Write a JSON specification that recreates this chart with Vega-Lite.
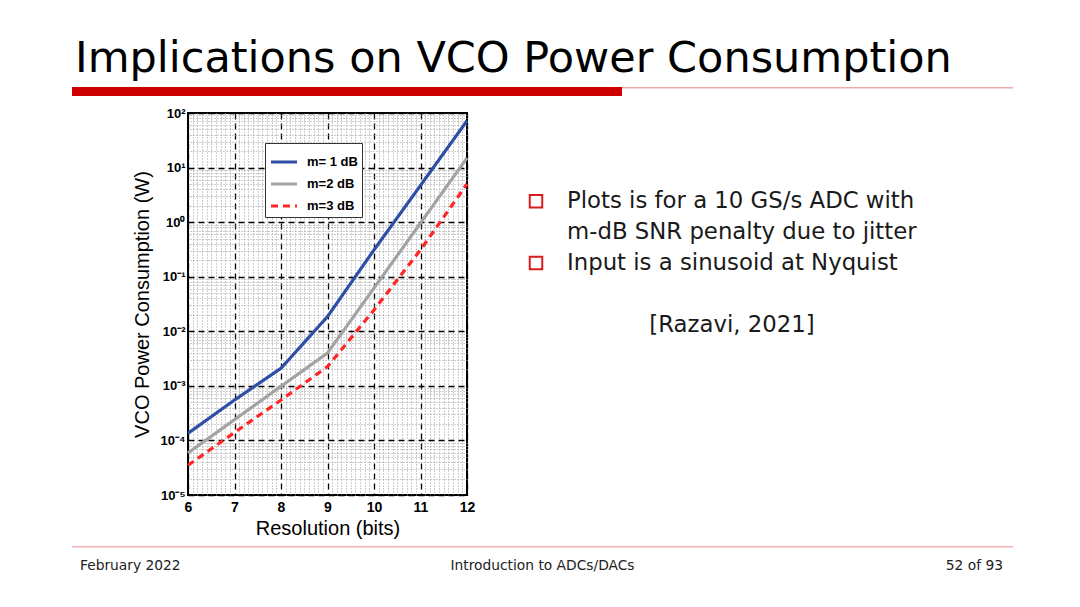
{
  "$schema": "https://vega.github.io/schema/vega-lite/v6.json",
  "background": "white",
  "padding": {"left": 72, "top": 38, "right": 67, "bottom": 30},
  "title": {"text": "Implications on VCO Power Consumption", "anchor": "start", "frame": "group", "font": "DejaVu Sans", "fontSize": 43, "fontWeight": "normal", "color": "#000000", "offset": 6, "dx": 3},
  "config": {"view": {"stroke": null}, "font": "Liberation Sans"},
  "spacing": 7,
  "vconcat": [
    {
      "spacing": 10,
      "vconcat": [
        {
          "spacing": 0,
          "hconcat": [
            {"width": 550, "height": 9, "view": {"fill": "#cc0000", "stroke": null}, "data": {"values": []}, "mark": {"type": "point", "opacity": 0}, "encoding": {}},
            {"width": 391, "height": 1.5, "view": {"fill": "#f0a8a8", "stroke": null}, "data": {"values": []}, "mark": {"type": "point", "opacity": 0}, "encoding": {}}
          ]
        },
        {
          "spacing": 0,
          "hconcat": [
            {"width": 59, "height": 10, "data": {"values": []}, "mark": {"type": "point", "opacity": 0}, "encoding": {}},
            {
              "width": 279,
              "height": 382,
              "view": {"stroke": "#000000", "strokeWidth": 2},
              "data": {"values": [
                {"res": 6, "P": 0.000135, "series": "m= 1 dB"},
                {"res": 7, "P": 0.00055, "series": "m= 1 dB"},
                {"res": 8, "P": 0.0021, "series": "m= 1 dB"},
                {"res": 9, "P": 0.0186, "series": "m= 1 dB"},
                {"res": 10, "P": 0.31, "series": "m= 1 dB"},
                {"res": 11, "P": 4.7, "series": "m= 1 dB"},
                {"res": 12, "P": 72, "series": "m= 1 dB"},
                {"res": 6, "P": 0.000059, "series": "m=2 dB"},
                {"res": 7, "P": 0.00024, "series": "m=2 dB"},
                {"res": 8, "P": 0.00098, "series": "m=2 dB"},
                {"res": 9, "P": 0.004, "series": "m=2 dB"},
                {"res": 10, "P": 0.062, "series": "m=2 dB"},
                {"res": 11, "P": 0.96, "series": "m=2 dB"},
                {"res": 12, "P": 15, "series": "m=2 dB"},
                {"res": 6, "P": 0.000035, "series": "m=3 dB"},
                {"res": 7, "P": 0.00014, "series": "m=3 dB"},
                {"res": 8, "P": 0.00055, "series": "m=3 dB"},
                {"res": 9, "P": 0.00225, "series": "m=3 dB"},
                {"res": 10, "P": 0.0246, "series": "m=3 dB"},
                {"res": 11, "P": 0.31, "series": "m=3 dB"},
                {"res": 12, "P": 5.0, "series": "m=3 dB"}
              ]},
              "layer": [
                {
                  "mark": {"type": "line", "opacity": 0},
                  "encoding": {
                    "x": {"field": "res", "type": "quantitative", "scale": {"domain": [6, 12], "nice": false, "zero": false},
                      "axis": {"orient": "top", "values": [6.1,6.2,6.3,6.4,6.5,6.6,6.7,6.8,6.9,7.1,7.2,7.3,7.4,7.5,7.6,7.7,7.8,7.9,8.1,8.2,8.3,8.4,8.5,8.6,8.7,8.8,8.9,9.1,9.2,9.3,9.4,9.5,9.6,9.7,9.8,9.9,10.1,10.2,10.3,10.4,10.5,10.6,10.7,10.8,10.9,11.1,11.2,11.3,11.4,11.5,11.6,11.7,11.8,11.9],
                        "grid": true, "gridColor": "#9a9a9a", "gridDash": [1, 2], "gridWidth": 1, "labels": false, "ticks": false, "domain": false, "title": null, "minExtent": 0, "maxExtent": 0}},
                    "y": {"field": "P", "type": "quantitative", "scale": {"type": "log", "domain": [0.00001, 100], "nice": false},
                      "axis": {"orient": "right", "values": [0.00002,0.00003,0.00004,0.00005,0.00006,0.00007,0.00008,0.00009,0.0002,0.0003,0.0004,0.0005,0.0006,0.0007,0.0008,0.0009,0.002,0.003,0.004,0.005,0.006,0.007,0.008,0.009,0.02,0.03,0.04,0.05,0.06,0.07,0.08,0.09,0.2,0.3,0.4,0.5,0.6,0.7,0.8,0.9,2,3,4,5,6,7,8,9,20,30,40,50,60,70,80,90],
                        "grid": true, "gridColor": "#9a9a9a", "gridDash": [1, 2], "gridWidth": 1, "labels": false, "ticks": false, "domain": false, "title": null, "minExtent": 0, "maxExtent": 0}}
                  }
                },
                {
                  "mark": {"type": "line", "strokeWidth": 3.2},
                  "encoding": {
                    "x": {"field": "res", "type": "quantitative",
                      "axis": {"orient": "bottom", "values": [6, 7, 8, 9, 10, 11, 12], "format": "d", "grid": true, "gridColor": "#000000", "gridDash": [6, 4], "gridWidth": 1.3, "ticks": false, "domain": false,
                        "labelFont": "Liberation Sans", "labelFontWeight": "bold", "labelFontSize": 14, "labelColor": "#000000", "labelPadding": 5, "labelFlush": false, "labelOverlap": false,
                        "title": "Resolution (bits)", "titleFont": "Liberation Sans", "titleFontSize": 20, "titleFontWeight": "normal", "titleColor": "#000000", "titlePadding": 4}},
                    "y": {"field": "P", "type": "quantitative",
                      "axis": {"orient": "left", "values": [0.00001, 0.0001, 0.001, 0.01, 0.1, 1, 10, 100], "grid": true, "gridColor": "#000000", "gridDash": [6, 4], "gridWidth": 1.3, "ticks": false, "domain": false,
                        "labelExpr": "datum.value > 50 ? '10²' : datum.value > 5 ? '10¹' : datum.value > 0.5 ? '10⁰' : datum.value > 0.05 ? '10⁻¹' : datum.value > 0.005 ? '10⁻²' : datum.value > 0.0005 ? '10⁻³' : datum.value > 0.00005 ? '10⁻⁴' : '10⁻⁵'",
                        "labelFont": "Liberation Sans", "labelFontWeight": "bold", "labelFontSize": 13, "labelColor": "#000000", "labelPadding": 3, "labelFlush": false, "labelOverlap": false,
                        "title": "VCO Power Consumption (W)", "titleFont": "Liberation Sans", "titleFontSize": 20, "titleFontWeight": "normal", "titleColor": "#000000", "titlePadding": 8}},
                    "color": {"field": "series", "type": "nominal",
                      "scale": {"domain": ["m= 1 dB", "m=2 dB", "m=3 dB"], "range": ["#2f4fa6", "#a3a3a3", "#ff2626"]},
                      "legend": {"title": null, "orient": "none", "legendX": 193, "legendY": 56, "fillColor": "#ffffff", "strokeColor": "#333333", "padding": 4, "symbolType": "stroke", "symbolSize": 676, "symbolStrokeWidth": 3.2, "labelFont": "Liberation Sans", "labelFontWeight": "bold", "labelFontSize": 13, "labelColor": "#000000", "rowPadding": -3.5, "labelOffset": 8,
                        "encode": {"symbols": {"update": {"strokeDash": {"signal": "datum.value === 'm=3 dB' ? [7, 5] : [1, 0]"}}}}}},
                    "strokeDash": {"field": "series", "type": "nominal",
                      "scale": {"domain": ["m= 1 dB", "m=2 dB", "m=3 dB"], "range": [[1, 0], [1, 0], [7, 5]]},
                      "legend": null}
                  }
                }
              ],
              "resolve": {"axis": {"x": "independent", "y": "independent"}}
            },
            {"width": 49, "height": 10, "data": {"values": []}, "mark": {"type": "point", "opacity": 0}, "encoding": {}},
            {
              "width": 412,
              "height": 212,
              "data": {"values": [
                {"line": 1, "bullet": true, "text": "Plots is for a 10 GS/s ADC with"},
                {"line": 2, "bullet": false, "text": "m-dB SNR penalty due to jitter"},
                {"line": 3, "bullet": true, "text": "Input is a sinusoid at Nyquist"},
                {"line": 5, "bullet": false, "cite": "[Razavi, 2021]"}
              ]},
              "layer": [
                {
                  "transform": [{"filter": "datum.bullet"}],
                  "mark": {"type": "point", "shape": "square", "filled": false, "color": "#d91c1c", "strokeWidth": 2, "size": 156, "opacity": 1},
                  "encoding": {
                    "x": {"datum": "bullet", "type": "nominal", "scale": {"type": "point", "domain": ["bullet", "text"], "range": [10, 41], "padding": 0}, "axis": null},
                    "y": {"field": "line", "type": "quantitative", "scale": {"domain": [-1.85, 5], "reverse": true, "nice": false, "zero": false}, "axis": null}
                  }
                },
                {
                  "transform": [{"filter": "datum.text"}],
                  "mark": {"type": "text", "align": "left", "baseline": "middle", "font": "DejaVu Sans", "fontSize": 22.8, "color": "#1a1a1a"},
                  "encoding": {
                    "x": {"datum": "text", "type": "nominal"},
                    "y": {"field": "line", "type": "quantitative"},
                    "text": {"field": "text"}
                  }
                },
                {
                  "transform": [{"filter": "datum.cite"}],
                  "mark": {"type": "text", "align": "center", "baseline": "middle", "font": "DejaVu Sans", "fontSize": 22.8, "color": "#1a1a1a"},
                  "encoding": {
                    "y": {"field": "line", "type": "quantitative"},
                    "text": {"field": "cite"}
                  }
                }
              ]
            }
          ]
        }
      ]
    },
    {
      "spacing": 10,
      "vconcat": [
        {"width": 941, "height": 1.5, "view": {"fill": "#f3b5b5", "stroke": null}, "data": {"values": []}, "mark": {"type": "point", "opacity": 0}, "encoding": {}},
        {
          "width": 941,
          "height": 11,
          "data": {"values": [
            {"slot": "left", "label": "February 2022"},
            {"slot": "center", "label": "Introduction to ADCs/DACs"},
            {"slot": "right", "label": "52 of 93"}
          ]},
          "layer": [
            {
              "transform": [{"filter": "datum.slot == 'left'"}],
              "mark": {"type": "text", "align": "left", "baseline": "middle", "font": "DejaVu Sans", "fontSize": 13.8, "color": "#222222"},
              "encoding": {
                "x": {"field": "slot", "type": "nominal", "scale": {"type": "point", "domain": ["left", "right"], "range": [8, 931], "padding": 0}, "axis": null},
                "text": {"field": "label"}
              }
            },
            {
              "transform": [{"filter": "datum.slot == 'center'"}],
              "mark": {"type": "text", "align": "center", "baseline": "middle", "font": "DejaVu Sans", "fontSize": 13.8, "color": "#222222"},
              "encoding": {"text": {"field": "label"}}
            },
            {
              "transform": [{"filter": "datum.slot == 'right'"}],
              "mark": {"type": "text", "align": "right", "baseline": "middle", "font": "DejaVu Sans", "fontSize": 13.8, "color": "#222222"},
              "encoding": {
                "x": {"field": "slot", "type": "nominal"},
                "text": {"field": "label"}
              }
            }
          ]
        }
      ]
    }
  ]
}
